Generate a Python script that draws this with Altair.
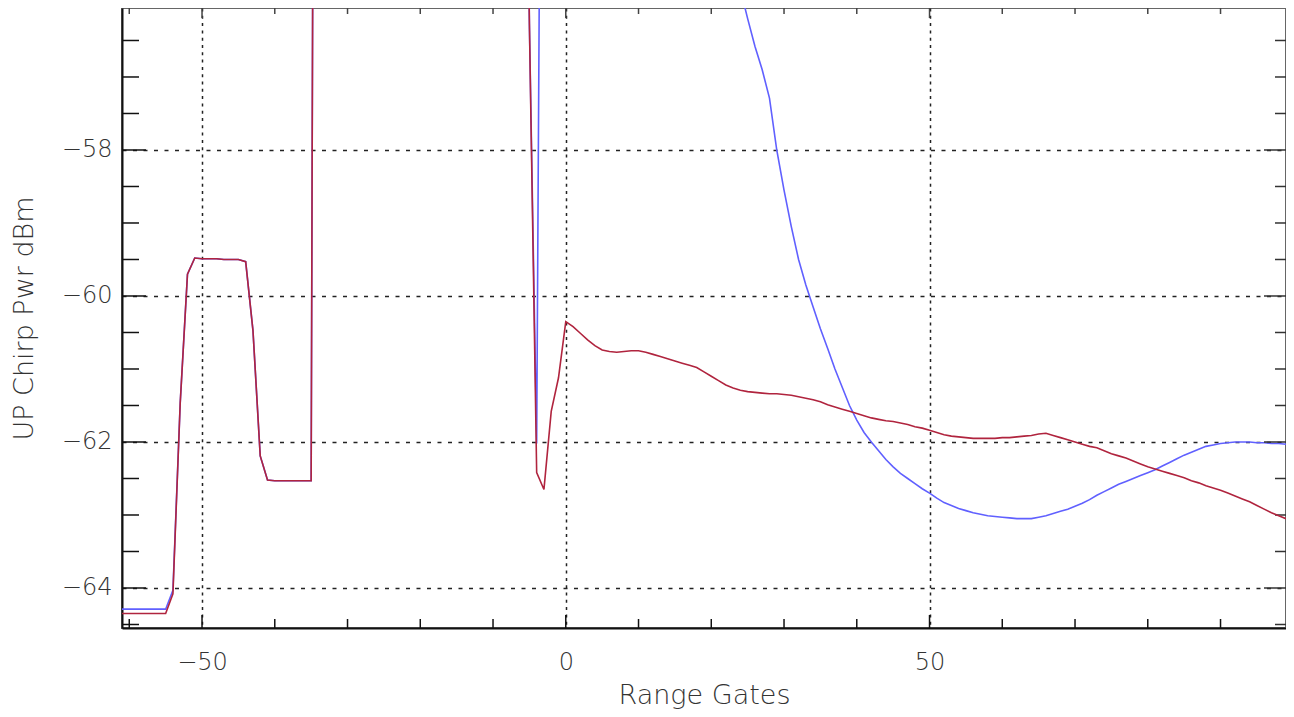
import altair as alt
import pandas as pd

# Range gates (x) -61 .. 99
gates = list(range(-61, 100))

# UP chirp power, red trace (dBm), gates -61 .. -1
red_neg = [
    -64.35, -64.35, -64.35, -64.35, -64.35, -64.35, -64.35,   # -61..-55
    -64.08, -61.47, -59.70, -59.48,                            # -54..-51
    -59.49, -59.49, -59.49, -59.50, -59.50, -59.50,            # -50..-45
    -59.53, -60.47, -62.19, -62.52,                            # -44..-41
    -62.53, -62.53, -62.53, -62.53, -62.53, -62.53,            # -40..-35
    -30.7, -27.0, -25.0, -23.5, -22.5, -22.0, -21.8, -21.7,    # -34..-27
    -21.8, -22.0, -22.3, -22.8, -23.4, -24.0, -24.8, -25.6,    # -26..-19
    -26.5, -27.4, -28.4, -29.5, -30.6, -31.8, -33.2, -34.8,    # -18..-11
    -36.6, -38.6, -41.0, -44.0, -48.0,                          # -10..-6
    -56.27, -62.42, -62.65, -61.58, -61.12,                     # -5..-1
]
# gates 0 .. 99
red_pos = [
    -60.35, -60.42, -60.51, -60.60, -60.68, -60.74, -60.76, -60.77, -60.76, -60.75,
    -60.75, -60.77, -60.80, -60.83, -60.86, -60.89, -60.92, -60.95, -60.98, -61.04,
    -61.10, -61.16, -61.22, -61.26, -61.29, -61.31, -61.32, -61.33, -61.34, -61.34,
    -61.35, -61.36, -61.38, -61.40, -61.42, -61.45, -61.49, -61.52, -61.55, -61.58,
    -61.61, -61.64, -61.67, -61.69, -61.71, -61.72, -61.74, -61.76, -61.79, -61.81,
    -61.84, -61.87, -61.90, -61.92, -61.93, -61.94, -61.95, -61.95, -61.95, -61.95,
    -61.94, -61.94, -61.93, -61.92, -61.91, -61.89, -61.88, -61.91, -61.94, -61.97,
    -62.00, -62.03, -62.06, -62.08, -62.12, -62.16, -62.19, -62.22, -62.26, -62.30,
    -62.34, -62.37, -62.40, -62.43, -62.46, -62.49, -62.53, -62.56, -62.60, -62.63,
    -62.66, -62.70, -62.74, -62.78, -62.82, -62.87, -62.92, -62.97, -63.01, -63.05,
]

# UP chirp power, blue trace (dBm), gates -61 .. -1
blue_neg = [
    -64.29, -64.29, -64.29, -64.29, -64.29, -64.29, -64.29,   # -61..-55
    -64.03, -61.47, -59.70, -59.48,                            # -54..-51
    -59.49, -59.49, -59.49, -59.50, -59.50, -59.50,            # -50..-45
    -59.53, -60.47, -62.19, -62.52,                            # -44..-41
    -62.53, -62.53, -62.53, -62.53, -62.53, -62.53,            # -40..-35
    -30.7, -27.0, -25.0, -23.5, -22.5, -22.0, -21.8, -21.7,    # -34..-27
    -21.8, -22.0, -22.3, -22.8, -23.4, -24.0, -24.8, -25.6,    # -26..-19
    -26.5, -27.4, -28.4, -29.5, -30.6, -31.8, -33.2, -34.8,    # -18..-11
    -36.6, -38.6, -41.0, -44.0, -48.0,                          # -10..-6
    -56.27, -62.02, -44.7, -40.0, -37.5,                        # -5..-1
]
# gates 0 .. 99
blue_pos = [
    -36.0, -35.2, -34.8, -34.8, -35.0, -35.5, -36.2, -37.0, -37.9, -38.9,
    -40.0, -41.2, -42.4, -43.7, -45.0, -46.3, -47.6, -48.9, -50.2, -51.4,
    -52.5, -53.5, -54.4, -55.2, -55.8, -56.2, -56.58, -56.90, -57.29, -58.00,
    -58.55, -59.05, -59.50, -59.85, -60.15, -60.45, -60.72, -61.00, -61.25, -61.50,
    -61.70, -61.87, -62.00, -62.12, -62.24, -62.34, -62.43, -62.50, -62.57, -62.64,
    -62.70, -62.77, -62.83, -62.87, -62.91, -62.94, -62.97, -62.99, -63.01, -63.02,
    -63.03, -63.04, -63.05, -63.05, -63.05, -63.03, -63.01, -62.98, -62.95, -62.92,
    -62.88, -62.84, -62.79, -62.73, -62.68, -62.63, -62.58, -62.54, -62.50, -62.46,
    -62.42, -62.38, -62.33, -62.28, -62.23, -62.18, -62.14, -62.10, -62.06, -62.04,
    -62.02, -62.01, -62.00, -62.00, -62.00, -62.01, -62.01, -62.02, -62.02, -62.03,
]

x_label_ticks = [-50, 0, 50]
x_minor_ticks = [-60, -40, -30, -20, -10, 10, 20, 30, 40, 60, 70, 80, 90]
y_label_ticks = [-64, -62, -60, -58]
y_minor_ticks = [-64.5, -63.5, -63, -62.5, -61.5, -61, -60.5, -59.5, -59,
                 -58.5, -57.5, -57, -56.5]

W, H = 1164, 620
FONT = "DejaVu Sans"

df = pd.DataFrame({"gate": gates, "red": red_neg + red_pos, "blue": blue_neg + blue_pos})

xscale = alt.Scale(domain=[-61, 99], nice=False, zero=False)
yscale = alt.Scale(domain=[-64.548, -56.055], nice=False, zero=False)

x_axis = alt.Axis(values=x_label_ticks, title="Range Gates", ticks=False, format="d",
                  grid=True, gridDash=[3, 4.3], gridColor="#222", gridWidth=1.5,
                  domainColor="#111", domainWidth=2, labelPadding=22,
                  labelFontSize=24, labelFont=FONT, labelColor="#333", labelFontWeight=300,
                  titleFontSize=27, titleFont=FONT, titleColor="#333", titleFontWeight=300,
                  titleBaseline="alphabetic", titleY=75)
y_axis = alt.Axis(values=y_label_ticks, title="UP Chirp Pwr dBm", ticks=False, format="d",
                  grid=True, gridDash=[4, 6.5], gridColor="#222", gridWidth=1.5,
                  domainColor="#111", domainWidth=2, labelPadding=10,
                  labelFontSize=24, labelFont=FONT, labelColor="#333", labelFontWeight=300,
                  titleFontSize=27, titleFont=FONT, titleColor="#333", titleFontWeight=300,
                  titleBaseline="alphabetic", titleX=-90)

base = alt.Chart(df)
blue_line = base.mark_line(color="#6060ff", strokeWidth=1.6, clip=True).encode(
    x=alt.X("gate:Q", scale=xscale, axis=x_axis),
    y=alt.Y("blue:Q", scale=yscale, axis=y_axis),
)
red_line = base.mark_line(color="#b0243e", strokeWidth=1.6, clip=True).encode(
    x=alt.X("gate:Q", scale=xscale),
    y=alt.Y("red:Q", scale=yscale),
)

def xticks(vals, y0, y1, color):
    d = pd.DataFrame({"t": vals})
    return alt.Chart(d).mark_rule(color=color, strokeWidth=1.5).encode(
        x=alt.X("t:Q", scale=xscale), y=alt.value(y0), y2=alt.value(y1))

def yticks(vals, x0, x1, color):
    d = pd.DataFrame({"t": vals})
    return alt.Chart(d).mark_rule(color=color, strokeWidth=1.5).encode(
        y=alt.Y("t:Q", scale=yscale), x=alt.value(x0), x2=alt.value(x1))

layers = [
    blue_line,
    xticks(x_minor_ticks, H, H - 9, "#111"),
    xticks(x_label_ticks, H, H - 13, "#111"),
    xticks(x_minor_ticks, 0, 6, "#444"),
    xticks(x_label_ticks, 0, 10, "#444"),
    yticks(y_minor_ticks, 0, 17, "#111"),
    yticks(y_label_ticks, 0, 24, "#111"),
    yticks(y_minor_ticks, W, W - 11, "#333"),
    yticks(y_label_ticks, W, W - 22, "#333"),
    red_line,
]

chart = alt.layer(*layers).properties(
    width=W, height=H,
    background="white",
    autosize=alt.AutoSizeParams(type="none"),
    padding={"left": 114, "top": 0, "right": 0, "bottom": 89},
).configure_view(stroke="#666", strokeWidth=2)

chart.save("out.html", embed_options={"renderer": "svg", "actions": False})
